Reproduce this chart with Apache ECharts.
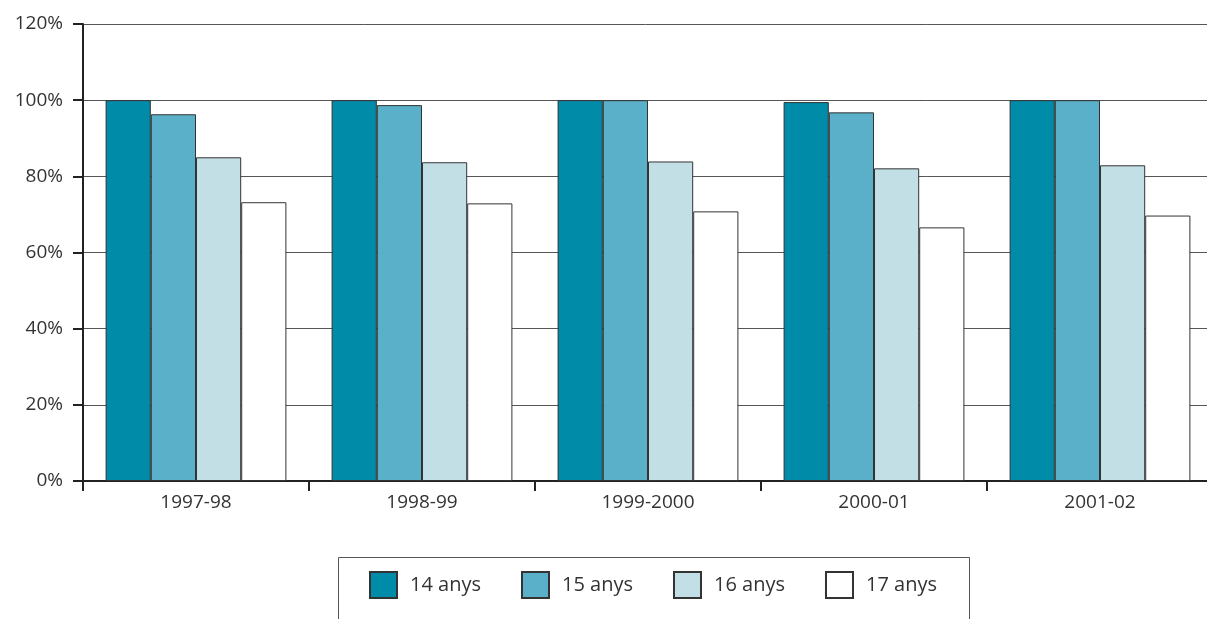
<!DOCTYPE html>
<html>
<head>
<meta charset="utf-8">
<script src="https://cdn.jsdelivr.net/npm/echarts@6/dist/echarts.min.js"></script>
<style>html,body{margin:0;padding:0;background:#fff;}#c{width:1207px;height:619px;}</style>
</head>
<body>
<div id="c"></div>
<script>
var categories = ['1997-98', '1998-99', '1999-2000', '2000-01', '2001-02'];
var seriesNames = ['14 anys', '15 anys', '16 anys', '17 anys'];
var s14 = [100, 100, 100, 99.5, 100];
var s15 = [96.3, 98.7, 100, 96.8, 100];
var s16 = [85.0, 83.7, 83.9, 82.1, 82.9];
var s17 = [73.2, 72.9, 70.8, 66.6, 69.7];
var yTicks = [0, 20, 40, 60, 80, 100, 120];

var colors = ['#008BA8', '#5AB0C8', '#C2DFE6', '#FFFFFF'];
var values = [s14, s15, s16, s17];
var font = 'Open Sans, Noto Sans, sans-serif';

var chart = echarts.init(document.getElementById('c'));
chart.setOption({
  animation: false,
  backgroundColor: '#fff',
  grid: { left: 83, width: 1130, top: 24, height: 457, containLabel: false, outerBoundsMode: 'none' },
  xAxis: {
    type: 'category',
    data: categories,
    axisLine: { lineStyle: { color: '#222', width: 2 } },
    axisTick: { show: true, length: 10, lineStyle: { color: '#222', width: 2 } },
    axisLabel: { color: '#333', fontSize: 19, fontFamily: font, margin: 12 }
  },
  yAxis: {
    type: 'value',
    min: yTicks[0], max: yTicks[yTicks.length - 1], interval: 20,
    axisLine: { show: true, lineStyle: { color: '#222', width: 2 } },
    axisTick: { show: true, length: 10, lineStyle: { color: '#222', width: 2 } },
    axisLabel: { color: '#333', fontSize: 19, fontFamily: font, margin: 20, formatter: '{value}%' },
    splitLine: { lineStyle: { color: '#555', width: 1 } }
  },
  legend: {
    data: seriesNames,
    left: 364, top: 566,
    itemWidth: 27, itemHeight: 26, itemGap: 40,
    textStyle: { color: '#333', fontSize: 20, fontFamily: font, padding: [0, 0, 0, 8] },
    icon: 'rect'
  },
  graphic: [{
    type: 'rect', left: 336, top: 555,
    shape: { width: 631, height: 80 },
    style: { fill: 'none', stroke: '#555', lineWidth: 1 },
    silent: true
  }],
  series: seriesNames.map(function (n, i) {
    return {
      name: n, type: 'bar', data: values[i],
      barGap: '0%', barCategoryGap: '20%',
      itemStyle: { color: colors[i], borderColor: '#333', borderWidth: 1 }
    };
  })
});
</script>
</body>
</html>
